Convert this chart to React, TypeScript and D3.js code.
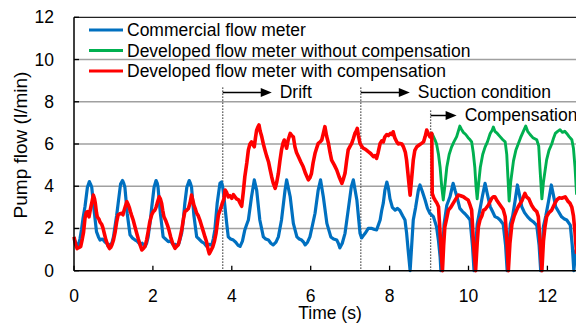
import { useMemo } from 'react';
import * as d3 from 'd3';

type Pt = [number, number];

// time (s), pump flow (l/min)
const commercialFlow: Pt[] = [
  [0, 1.5], [0.05, 1.3], [0.11, 1.2], [0.15, 1.5], [0.19, 1.95], [0.23, 2.5], [0.28, 3.05], [0.34, 3.95], [0.39, 4.22], [0.42, 4.1], [0.45, 3.95], [0.51, 2.85], [0.57, 1.85], [0.62, 1.6], [0.66, 1.45], [0.72, 1.5], [0.79, 1.35], [0.83, 1.3], [0.87, 1.15], [0.92, 1.25], [0.96, 1.3],
  [1.0, 1.6], [1.04, 2.1], [1.08, 2.6], [1.12, 3.2], [1.18, 4.1], [1.23, 4.27], [1.26, 4.15], [1.29, 3.95], [1.35, 2.7], [1.42, 1.7], [1.48, 1.55], [1.55, 1.45], [1.6, 1.4], [1.67, 1.25], [1.73, 1.3], [1.8, 1.15], [1.84, 1.3], [1.88, 1.6], [1.93, 2.3], [1.97, 3.0],
  [2.03, 3.95], [2.08, 4.27], [2.11, 4.15], [2.13, 3.95], [2.19, 2.7], [2.26, 1.6], [2.32, 1.5], [2.39, 1.38], [2.45, 1.4], [2.52, 1.22], [2.57, 1.25], [2.6, 1.15], [2.66, 1.3], [2.73, 1.78], [2.77, 2.4], [2.81, 3.2], [2.86, 3.95], [2.92, 4.27], [2.95, 4.15], [2.98, 3.95],
  [3.04, 2.6], [3.11, 1.6], [3.17, 1.5], [3.24, 1.37], [3.3, 1.3], [3.36, 1.15], [3.42, 1.25], [3.49, 1.2], [3.53, 1.5], [3.57, 1.93], [3.63, 3.2], [3.7, 4.14], [3.74, 4.2], [3.77, 3.95], [3.8, 3.5], [3.87, 2.25], [3.91, 1.6], [3.97, 1.5],
  [4.04, 1.45], [4.1, 1.35], [4.16, 1.2], [4.21, 1.15], [4.27, 1.4], [4.33, 1.93], [4.38, 2.2], [4.42, 2.4], [4.5, 3.5], [4.57, 4.3], [4.63, 3.82], [4.71, 2.4], [4.8, 1.6], [4.86, 1.5], [4.93, 1.45], [4.99, 1.3],
  [5.05, 1.22], [5.12, 1.35], [5.18, 1.6], [5.26, 2.4], [5.35, 3.82], [5.39, 4.3], [5.48, 3.5], [5.56, 2.24], [5.65, 1.6], [5.71, 1.5], [5.77, 1.45], [5.82, 1.35], [5.86, 1.22], [5.92, 1.35], [5.98, 1.6],
  [6.05, 2.2], [6.11, 2.72], [6.19, 3.82], [6.25, 4.3], [6.32, 3.5], [6.41, 2.24], [6.51, 1.6], [6.58, 1.5], [6.66, 1.45], [6.7, 1.3], [6.74, 1.08], [6.8, 1.3], [6.87, 1.77], [6.95, 2.87],
  [7.03, 3.98], [7.08, 4.3], [7.17, 3.35], [7.25, 1.77], [7.29, 1.55], [7.33, 1.65], [7.38, 1.77], [7.46, 2.0], [7.55, 2.0], [7.62, 1.95], [7.67, 1.93], [7.76, 2.4], [7.8, 2.85], [7.84, 3.2], [7.88, 3.8], [7.93, 4.2], [7.97, 3.9],
  [8.01, 3.4], [8.07, 3.0], [8.14, 2.87], [8.2, 2.95], [8.26, 2.85], [8.33, 2.6], [8.39, 2.4], [8.43, 1.8], [8.47, 0.98], [8.52, 0], [8.56, 1.2], [8.6, 2.4], [8.66, 3.0], [8.73, 3.82], [8.77, 4.06], [8.83, 3.75], [8.9, 3.35], [8.96, 2.95],
  [9.02, 2.72], [9.11, 2.56], [9.19, 2.08], [9.24, 1.4], [9.28, 0.66], [9.3, 0], [9.35, 1.1], [9.38, 2.2], [9.45, 3.1], [9.53, 3.5], [9.57, 3.82], [9.61, 4.14], [9.66, 3.8], [9.7, 3.55], [9.78, 2.95], [9.85, 2.8], [9.91, 2.7], [9.98, 2.55],
  [10.04, 2.4], [10.1, 1.2], [10.14, 0], [10.18, 1.1], [10.22, 2.2], [10.29, 2.9], [10.35, 3.5], [10.42, 4.14], [10.47, 3.7], [10.55, 3.03], [10.61, 2.8], [10.67, 2.56], [10.74, 2.5], [10.8, 2.4], [10.88, 2.2], [10.94, 1.2], [10.98, 0],
  [11.02, 1.1], [11.06, 2.2], [11.12, 2.6], [11.18, 3.3], [11.24, 4.06], [11.29, 3.6], [11.35, 3.03], [11.42, 2.75], [11.5, 2.55], [11.58, 2.4], [11.64, 2.32], [11.73, 2.15], [11.79, 1.2], [11.83, 0],
  [11.87, 1.1], [11.9, 2.1], [11.96, 2.6], [12.03, 3.3], [12.1, 4.06], [12.15, 3.6], [12.21, 3.03], [12.28, 2.8], [12.36, 2.55], [12.43, 2.45], [12.49, 2.4], [12.58, 2.16], [12.63, 1.2], [12.67, 0], [12.72, 1.0],
];

const uncompensatedFlow: Pt[] = [
  [9.05, 6.55], [9.1, 6.4], [9.15, 6.2], [9.19, 6.0], [9.24, 5.5], [9.28, 4.9], [9.32, 4.0], [9.36, 3.35], [9.4, 4.0], [9.45, 4.9], [9.51, 5.5], [9.57, 5.85], [9.63, 6.1], [9.7, 6.35], [9.74, 6.6], [9.78, 6.85], [9.82, 6.7], [9.87, 6.55], [9.93, 6.45], [9.99, 6.3],
  [10.04, 6.2], [10.08, 6.1], [10.12, 5.6], [10.16, 4.9], [10.19, 4.0], [10.22, 3.4], [10.26, 4.2], [10.3, 4.9], [10.36, 5.5], [10.42, 5.85], [10.48, 6.1], [10.55, 6.5], [10.6, 6.65], [10.63, 6.8], [10.67, 6.6], [10.73, 6.5], [10.8, 6.35], [10.87, 6.2], [10.93, 6.1], [10.97, 5.5],
  [11.0, 4.4], [11.03, 3.3], [11.07, 4.2], [11.14, 5.2], [11.2, 5.7], [11.26, 6.0], [11.32, 6.3], [11.39, 6.6], [11.45, 6.85], [11.5, 6.6], [11.56, 6.45], [11.63, 6.3], [11.73, 6.2], [11.78, 5.9], [11.81, 4.9], [11.84, 4.0], [11.86, 3.4], [11.9, 4.2], [11.98, 5.25],
  [12.04, 5.7], [12.11, 6.0], [12.16, 6.3], [12.2, 6.5], [12.26, 6.6], [12.32, 6.68], [12.38, 6.55], [12.44, 6.6], [12.49, 6.5], [12.55, 6.35], [12.62, 6.2], [12.66, 5.8], [12.7, 4.9], [12.74, 3.6],
];

const compensatedFlow: Pt[] = [
  [0, 1.6], [0.04, 1.25], [0.08, 1.05], [0.13, 1.1], [0.17, 1.15], [0.21, 1.5], [0.24, 1.8], [0.28, 2.5], [0.31, 2.75], [0.34, 2.8], [0.38, 2.55], [0.42, 2.95], [0.46, 3.3], [0.49, 3.58], [0.52, 3.4], [0.54, 3.2], [0.57, 2.75], [0.59, 2.55], [0.63, 2.45], [0.66, 2.3], [0.7, 2.2], [0.73, 2.05], [0.77, 1.75], [0.81, 1.45], [0.86, 1.2], [0.9, 1.05], [0.93, 1.1], [0.96, 1.22],
  [1.0, 1.45], [1.04, 1.8], [1.08, 2.3], [1.12, 2.65], [1.17, 2.7], [1.21, 2.72], [1.24, 2.65], [1.27, 2.85], [1.31, 3.1], [1.34, 3.27], [1.37, 3.15], [1.4, 3.0], [1.43, 2.8], [1.46, 2.62], [1.5, 2.4], [1.55, 2.05], [1.6, 1.7], [1.63, 1.5], [1.68, 1.2], [1.72, 0.98], [1.76, 1.05], [1.8, 1.15], [1.84, 1.45], [1.88, 1.85], [1.92, 2.3], [1.97, 2.65],
  [2.01, 2.8], [2.05, 2.87], [2.08, 3.0], [2.11, 3.2], [2.16, 3.5], [2.19, 3.4], [2.22, 3.2], [2.25, 2.85], [2.28, 2.55], [2.33, 2.35], [2.37, 2.15], [2.41, 1.9], [2.45, 1.6], [2.5, 1.3], [2.56, 1.06], [2.6, 1.15], [2.64, 1.22], [2.68, 1.5], [2.73, 1.93], [2.77, 2.4], [2.81, 2.8], [2.85, 2.85], [2.9, 2.95], [2.94, 3.2], [2.98, 3.58],
  [3.01, 3.35], [3.04, 3.1], [3.08, 2.9], [3.11, 2.72], [3.15, 2.6], [3.19, 2.4], [3.23, 2.15], [3.28, 1.85], [3.32, 1.6], [3.36, 1.37], [3.4, 1.0], [3.43, 0.8], [3.47, 0.95], [3.52, 1.14], [3.56, 1.4], [3.6, 1.77], [3.63, 2.2], [3.66, 2.64], [3.69, 2.8], [3.72, 2.95], [3.76, 3.2], [3.8, 3.4], [3.83, 3.82], [3.87, 3.7], [3.91, 3.5], [3.95, 3.55],
  [4.0, 3.43], [4.04, 3.6], [4.08, 3.5], [4.12, 3.4], [4.17, 3.35], [4.21, 3.2], [4.25, 3.05], [4.29, 3.7], [4.33, 4.45], [4.38, 5.1], [4.42, 5.72], [4.46, 6.0], [4.5, 6.1], [4.54, 5.95], [4.57, 5.87], [4.6, 6.3], [4.63, 6.66], [4.66, 6.8], [4.69, 6.9], [4.72, 6.6], [4.76, 6.34], [4.8, 6.0], [4.84, 5.72], [4.88, 5.45], [4.93, 5.16], [4.97, 4.8],
  [5.01, 4.45], [5.05, 4.15], [5.1, 3.9], [5.14, 4.2], [5.18, 4.61], [5.22, 5.2], [5.26, 5.72], [5.3, 6.05], [5.33, 6.19], [5.36, 6.0], [5.39, 5.8], [5.43, 6.2], [5.48, 6.5], [5.52, 6.4], [5.56, 6.34], [5.6, 5.87], [5.64, 5.6], [5.69, 5.4], [5.75, 5.15], [5.81, 4.92], [5.87, 4.6], [5.94, 4.3], [5.98, 4.4],
  [6.02, 4.61], [6.06, 5.1], [6.11, 5.56], [6.15, 5.8], [6.19, 6.03], [6.24, 6.1], [6.28, 6.19], [6.32, 6.5], [6.36, 6.82], [6.4, 6.4], [6.45, 6.03], [6.49, 5.6], [6.53, 5.24], [6.6, 5.0], [6.66, 4.77], [6.72, 4.45], [6.79, 4.14], [6.83, 4.35], [6.87, 4.61], [6.91, 5.2], [6.95, 5.72],
  [7.0, 5.9], [7.04, 6.03], [7.08, 6.25], [7.12, 6.5], [7.15, 6.6], [7.18, 6.74], [7.21, 6.4], [7.25, 6.03], [7.29, 5.9], [7.33, 5.8], [7.39, 5.75], [7.46, 5.64], [7.52, 5.55], [7.59, 5.4], [7.63, 5.45], [7.67, 5.32], [7.71, 5.6], [7.76, 6.03], [7.8, 6.15], [7.84, 6.1], [7.88, 6.34], [7.93, 6.45], [7.97, 6.4],
  [8.02, 6.5], [8.06, 6.45], [8.09, 6.58], [8.13, 6.3], [8.18, 6.11], [8.22, 6.0], [8.26, 6.03], [8.31, 6.0], [8.35, 5.87], [8.4, 5.6], [8.43, 5.24], [8.47, 4.5], [8.52, 3.58], [8.56, 4.4], [8.6, 5.24], [8.64, 5.7], [8.69, 5.87], [8.75, 5.95], [8.81, 6.03], [8.86, 6.1], [8.9, 6.34], [8.94, 6.66], [8.98, 6.5],
  [9.02, 6.34], [9.07, 6.5], [9.08, 3.66], [9.12, 3.45], [9.15, 3.35], [9.2, 3.2], [9.24, 3.03], [9.28, 1.77], [9.31, 0.8], [9.34, 0], [9.37, 1.2], [9.4, 2.08], [9.45, 2.5], [9.49, 2.87], [9.55, 3.0], [9.61, 3.19], [9.68, 3.4], [9.74, 3.58], [9.8, 3.55], [9.87, 3.5], [9.93, 3.42], [9.99, 3.35],
  [10.04, 3.1], [10.08, 2.87], [10.13, 1.2], [10.18, 0], [10.22, 1.3], [10.25, 2.08], [10.29, 2.4], [10.34, 2.6], [10.38, 2.87], [10.42, 2.9], [10.5, 3.1], [10.59, 3.43], [10.63, 3.5], [10.67, 3.5], [10.73, 3.3], [10.8, 3.11], [10.88, 2.9], [10.93, 2.56], [10.98, 1.2],
  [11.01, 0], [11.05, 1.3], [11.1, 2.2], [11.16, 2.6], [11.22, 2.87], [11.26, 3.03], [11.35, 3.3], [11.43, 3.66], [11.47, 3.5], [11.53, 3.4], [11.6, 3.1], [11.67, 2.9], [11.73, 2.8], [11.77, 2.56], [11.82, 1.2], [11.86, 0], [11.9, 1.4], [11.94, 2.1], [11.98, 2.56],
  [12.04, 2.75], [12.11, 2.87], [12.19, 3.19], [12.24, 3.35], [12.3, 3.45], [12.36, 3.43], [12.45, 3.5], [12.53, 3.27], [12.57, 3.2], [12.62, 3.0], [12.66, 2.6], [12.7, 1.8], [12.74, 0.8],
];

const xTicks = [0, 2, 4, 6, 8, 10, 12];
const yTicks = [0, 2, 4, 6, 8, 10, 12];

const seriesNames = [
  'Commercial flow meter',
  'Developed flow meter without compensation',
  'Developed flow meter with compensation',
];
const seriesColors = ['#0070C0', '#00B050', '#FF0000'];

// phase markers: start time and label
const phaseStarts = [3.77, 7.27, 9.04];
const phaseLabels = ['Drift', 'Suction condition', 'Compensation'];

const font = '"Liberation Sans", Arial, sans-serif';

export default function App() {
  const width = 576;
  const height = 324;

  const x = useMemo(() => d3.scaleLinear().domain([0, 12]).range([74, 547.4]), []);
  const y = useMemo(() => d3.scaleLinear().domain([0, 12]).range([270.7, 17.3]), []);

  const line = d3
    .line<Pt>()
    .x((d) => x(d[0]))
    .y((d) => y(d[1]));

  const phaseY = [92.5, 92.5, 115.5];
  const arrowLen = [49, 49, 26];

  return (
    <svg
      width={width}
      height={height}
      style={{ position: 'absolute', left: 0, top: 0, background: '#fff' }}
      fontFamily={font}
    >
      {/* grid */}
      {yTicks
        .filter((t) => t > 0 && t < 12)
        .map((t) => (
          <line key={t} x1={x(0)} x2={width} y1={y(t)} y2={y(t)} stroke="#a0a0a0" strokeWidth={1.5} />
        ))}
      <line x1={x(0)} x2={width} y1={y(12)} y2={y(12)} stroke="#222" strokeWidth={1.2} />

      {/* phase markers */}
      {phaseStarts.map((t, i) => (
        <g key={t}>
          <line
            x1={x(t)}
            x2={x(t)}
            y1={phaseY[i] - 5}
            y2={y(0)}
            stroke="#333"
            strokeWidth={1.3}
            strokeDasharray="1.3 1.7"
          />
          <line x1={x(t)} x2={x(t) + arrowLen[i] - 9} y1={phaseY[i]} y2={phaseY[i]} stroke="#000" strokeWidth={1.5} />
          <path
            d={`M${x(t) + arrowLen[i]},${phaseY[i]} L${x(t) + arrowLen[i] - 11},${phaseY[i] - 4.5} L${x(t) + arrowLen[i] - 11},${phaseY[i] + 4.5} Z`}
            fill="#000"
          />
          <text x={x(t) + arrowLen[i] + 8} y={phaseY[i] + 5.5} fontSize={17.5} fill="#000">
            {phaseLabels[i]}
          </text>
        </g>
      ))}

      {/* series */}
      <path d={line(commercialFlow)!} fill="none" stroke={seriesColors[0]} strokeWidth={3.2} strokeLinejoin="round" />
      <path d={line(uncompensatedFlow)!} fill="none" stroke={seriesColors[1]} strokeWidth={2.9} strokeLinejoin="round" />
      <path d={line(compensatedFlow)!} fill="none" stroke={seriesColors[2]} strokeWidth={3.6} strokeLinejoin="round" />

      {/* axes */}
      <line x1={x(0)} x2={x(0)} y1={y(12)} y2={y(0)} stroke="#000" strokeWidth={1.5} />
      <line x1={x(0)} x2={width} y1={y(0)} y2={y(0)} stroke="#000" strokeWidth={1.5} />
      {xTicks.map((t) => (
        <g key={t}>
          <line x1={x(t)} x2={x(t)} y1={y(0)} y2={y(0) - 5} stroke="#000" strokeWidth={1.3} />
          <text x={x(t)} y={302} textAnchor="middle" fontSize={17.5} fill="#000">
            {t}
          </text>
        </g>
      ))}
      {yTicks.map((t) => (
        <g key={t}>
          <line x1={x(0)} x2={x(0) + 5} y1={y(t)} y2={y(t)} stroke="#000" strokeWidth={1.3} />
          <text x={54} y={y(t) + 6} textAnchor="end" fontSize={17.5} fill="#000">
            {t}
          </text>
        </g>
      ))}
      <text x={330} y={319} textAnchor="middle" fontSize={17.5} fill="#000">
        Time (s)
      </text>
      <text transform="translate(26.5,145) rotate(-90)" textAnchor="middle" fontSize={19} fill="#000">
        Pump flow (l/min)
      </text>

      {/* legend */}
      {seriesNames.map((name, i) => (
        <g key={name} transform={`translate(0,${30 + i * 20.5})`}>
          <line x1={89} x2={123} y1={0} y2={0} stroke={seriesColors[i]} strokeWidth={3} />
          <text x={127} y={6} fontSize={17.5} fill="#000">
            {name}
          </text>
        </g>
      ))}
    </svg>
  );
}
